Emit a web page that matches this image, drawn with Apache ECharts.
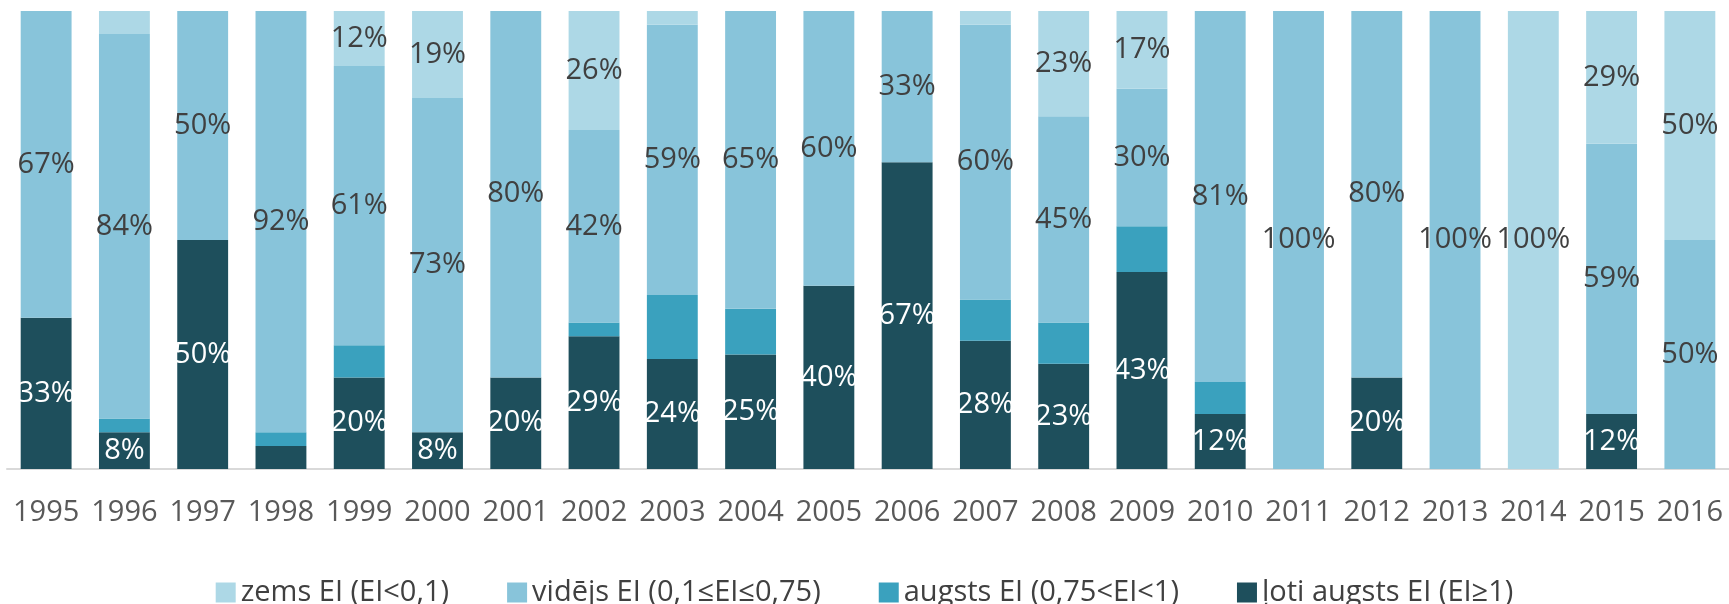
<!DOCTYPE html>
<html>
<head>
<meta charset="utf-8">
<script src="https://cdn.jsdelivr.net/npm/echarts@6/dist/echarts.min.js"></script>
<style>
html,body{margin:0;padding:0;background:#fff;}
#c{width:1729px;height:604px;}
</style>
</head>
<body>
<div id="c"></div>
<script>
const years = ['1995','1996','1997','1998','1999','2000','2001','2002','2003','2004','2005','2006','2007','2008','2009','2010','2011','2012','2013','2014','2015','2016'];
const lotiAugsts = [33, 8, 50, 5, 20, 8, 20, 29, 24, 25, 40, 67, 28, 23, 43, 12, 0, 20, 0, 0, 12, 0];
const augsts     = [0, 3, 0, 3, 7, 0, 0, 3, 14, 10, 0, 0, 9, 9, 10, 7, 0, 0, 0, 0, 0, 0];
const videjs     = [67, 84, 50, 92, 61, 73, 80, 42, 59, 65, 60, 33, 60, 45, 30, 81, 100, 80, 100, 0, 59, 50];
const zems       = [0, 5, 0, 0, 12, 19, 0, 26, 3, 0, 0, 0, 3, 23, 17, 0, 0, 0, 0, 100, 29, 50];
const seriesNames = ['zems EI (EI<0,1)', 'vidējs EI (0,1≤EI≤0,75)', 'augsts EI (0,75<EI<1)', 'ļoti augsts EI (EI≥1)'];

const FONT = 'Open Sans';
const fmt = p => (p.value >= 8 ? p.value + '%' : '');

function mk(name, data, color, labelColor, showLabel) {
  return {
    name: name,
    type: 'bar',
    stack: 'total',
    data: data,
    barCategoryGap: '35%',
    itemStyle: { color: color },
    label: {
      show: showLabel,
      position: 'inside',
      formatter: fmt,
      color: labelColor,
      fontFamily: FONT,
      fontSize: 29
    },
    emphasis: { disabled: true }
  };
}

const chart = echarts.init(document.getElementById('c'));
chart.setOption({
  animation: false,
  backgroundColor: '#ffffff',
  grid: { left: 7, right: -2, top: 11, bottom: 135 },
  legend: {
    data: seriesNames,
    left: 'center',
    top: 573,
    itemWidth: 20,
    itemHeight: 20,
    itemGap: 58,
    icon: 'rect',
    textStyle: { fontFamily: FONT, fontSize: 29, color: '#404040' }
  },
  xAxis: {
    type: 'category',
    data: years,
    axisLine: { lineStyle: { color: '#d9d9d9', width: 2 } },
    axisTick: { show: false },
    axisLabel: { margin: 29, fontFamily: FONT, fontSize: 29, color: '#595959', interval: 0 }
  },
  yAxis: {
    type: 'value',
    min: 0,
    max: 100,
    show: false,
    splitLine: { show: false }
  },
  series: [
    mk(seriesNames[3], lotiAugsts, '#1e4f5c', '#ffffff', true),
    mk(seriesNames[2], augsts, '#3aa1be', '#ffffff', false),
    mk(seriesNames[1], videjs, '#88c4da', '#404040', true),
    mk(seriesNames[0], zems, '#add8e6', '#404040', true)
  ]
});
</script>
</body>
</html>
